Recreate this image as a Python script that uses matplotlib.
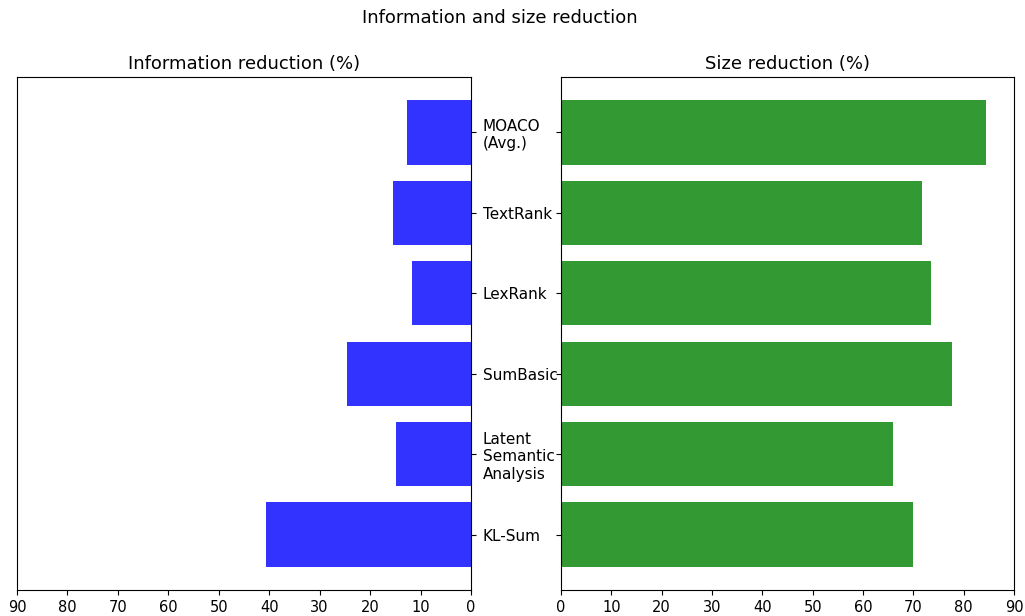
import numpy as np
import matplotlib
matplotlib.use("Agg")
import matplotlib.pyplot as plt

methods = ["KL-Sum", "Latent\nSemantic\nAnalysis", "SumBasic", "LexRank", "TextRank", "MOACO\n(Avg.)"]
info_reduction = [40.6, 14.9, 24.6, 11.7, 15.5, 12.7]
size_reduction = [69.9, 66.0, 77.7, 73.5, 71.7, 84.4]

y = np.arange(len(methods))

fig = plt.figure(figsize=(10.25, 6.16), dpi=100)
ax1 = fig.add_axes([17 / 1025, 26 / 616, 454 / 1025, 513 / 616])
ax2 = fig.add_axes([561 / 1025, 26 / 616, 453 / 1025, 513 / 616])

ax1.barh(y, info_reduction, height=0.8, color="b", alpha=0.8)
ax1.set_xlim(90, 0)
ax1.set_xticks(np.arange(0, 100, 10))
ax1.set_title("Information reduction (%)", fontsize=13)
ax1.yaxis.tick_right()
ax1.set_yticks(y)
ax1.set_yticklabels(methods, ha="left", fontsize=11)
ax1.tick_params(axis="y", pad=5)

ax2.barh(y, size_reduction, height=0.8, color="g", alpha=0.8)
ax2.set_xlim(0, 90)
ax2.set_xticks(np.arange(0, 100, 10))
ax2.set_title("Size reduction (%)", fontsize=13)
ax2.set_yticks(y)
ax2.set_yticklabels([])

for ax in (ax1, ax2):
    ax.set_ylim(ax1.get_ylim())
    ax.tick_params(axis="x", labelsize=10.5)

fig.suptitle("Information and size reduction", fontsize=13, x=0.488, y=0.985)
fig.savefig("out.png", dpi=100)
